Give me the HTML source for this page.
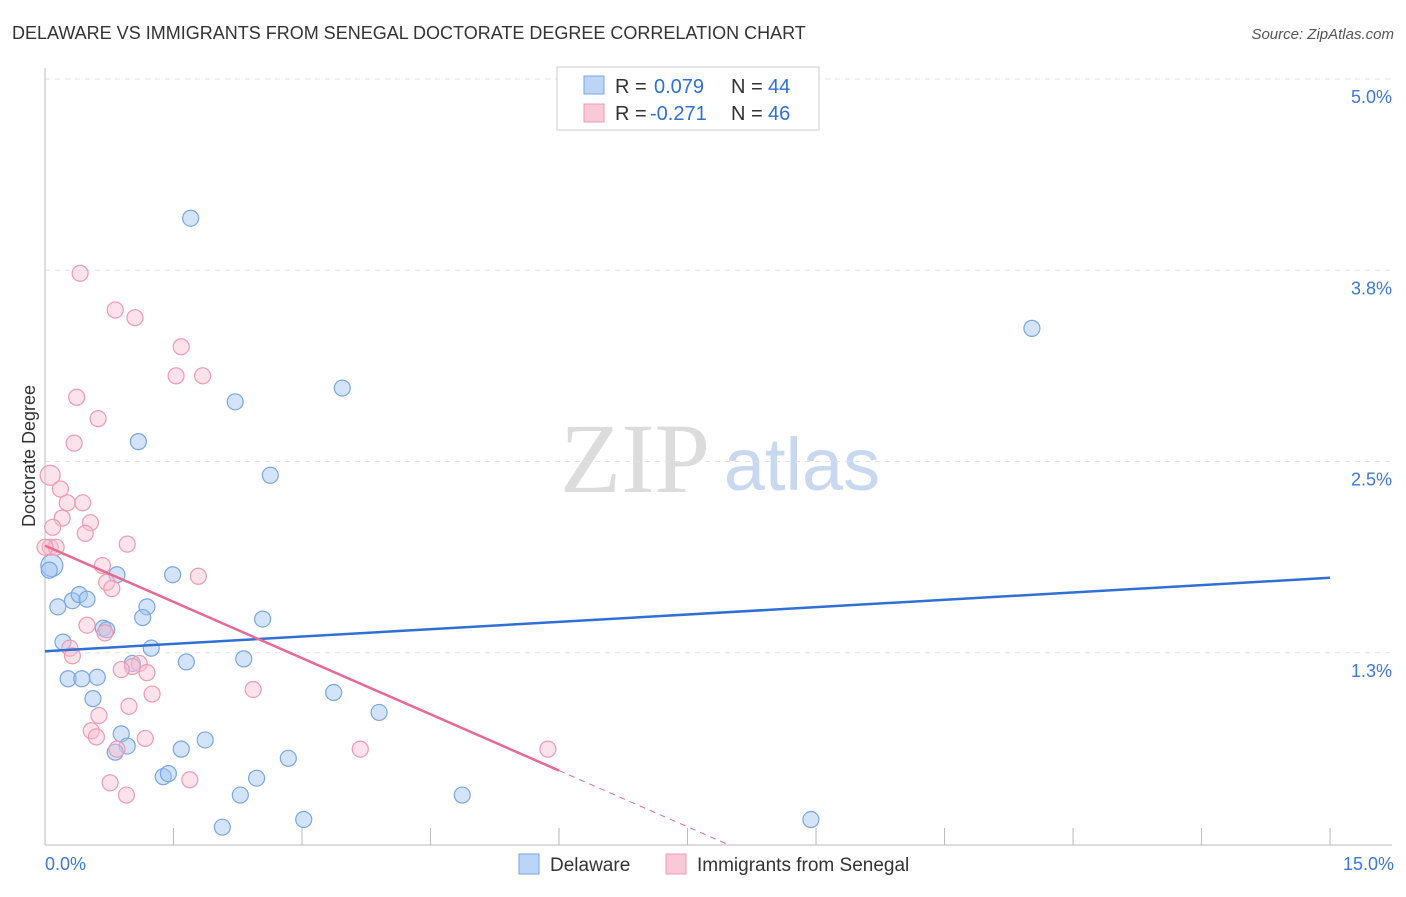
<!DOCTYPE html>
<html><head><meta charset="utf-8"><style>
body{margin:0;background:#fff;font-family:"Liberation Sans",sans-serif;}
svg text{font-family:"Liberation Sans",sans-serif;}
</style></head><body>
<svg id="c" width="1406" height="892">
<text x="12" y="39" font-size="18" fill="#333">DELAWARE VS IMMIGRANTS FROM SENEGAL DOCTORATE DEGREE CORRELATION CHART</text>
<text x="1394" y="39" font-size="15" fill="#555" text-anchor="end" font-style="italic">Source: ZipAtlas.com</text>
<text x="35" y="456" font-size="18" fill="#333" text-anchor="middle" transform="rotate(-90 35 456)">Doctorate Degree</text>
<text x="635" y="492" font-size="100" fill="#dcdcdc" text-anchor="middle" style="font-family:'Liberation Serif',serif">ZIP</text>
<text x="802" y="490" font-size="74" fill="#c8d8ef" text-anchor="middle">atlas</text>
<g id="grid"></g><g id="marks"></g>
<g>
<rect x="557" y="67" width="262" height="63" fill="#fff" stroke="#ccc"/>
<rect x="584" y="76" width="20" height="18" fill="#bcd4f5" stroke="#7aa6e6"/>
<rect x="584" y="104" width="20" height="18" fill="#f9c9d7" stroke="#ee9ab3"/>
<text x="615" y="93" font-size="20" fill="#333">R =</text>
<text x="654" y="93" font-size="20" fill="#2f6fd6">0.079</text>
<text x="731" y="93" font-size="20" fill="#333">N =</text>
<text x="768" y="93" font-size="20" fill="#2f6fd6">44</text>
<text x="615" y="120" font-size="20" fill="#333">R =</text>
<text x="650" y="120" font-size="20" fill="#2f6fd6">-0.271</text>
<text x="731" y="120" font-size="20" fill="#333">N =</text>
<text x="768" y="120" font-size="20" fill="#2f6fd6">46</text>
</g>
<g>
<rect x="519" y="854" width="20" height="20" fill="#bcd4f5" stroke="#7aa6e6"/>
<text x="550" y="871" font-size="19" fill="#333">Delaware</text>
<rect x="666" y="854" width="20" height="20" fill="#f9c9d7" stroke="#ee9ab3"/>
<text x="697" y="871" font-size="19" fill="#333">Immigrants from Senegal</text>
</g>
</svg>
<script>
const xTicks=[0,1.5,3,4.5,6,7.5,9,10.5,12,13.5,15];
const yTicks=[1.25,2.5,3.75,5.0];
const yTickLabels=["1.3%","2.5%","3.8%","5.0%"];
const blueX=[1.70,11.52,3.47,2.22,1.09,2.63,0.08,0.84,1.49,0.15,0.32,0.40,0.49,1.19,1.14,2.54,0.21,0.68,0.72,1.24,1.02,1.65,2.32,0.61,0.27,0.43,0.56,3.37,3.90,0.89,0.96,0.82,1.59,1.87,2.84,1.38,1.44,2.47,2.28,4.87,2.07,3.02,8.94,0.05];
const blueY=[4.09,3.37,2.98,2.89,2.63,2.41,1.82,1.76,1.76,1.55,1.59,1.63,1.60,1.55,1.48,1.47,1.32,1.41,1.40,1.28,1.18,1.19,1.21,1.09,1.08,1.08,0.95,0.99,0.86,0.72,0.64,0.60,0.62,0.68,0.56,0.44,0.46,0.43,0.32,0.32,0.11,0.16,0.16,1.79];
const pinkX=[0.41,0.82,1.05,1.59,1.53,1.84,0.37,0.62,0.34,0.06,0.18,0.44,0.26,0.20,0.53,0.47,0.09,0.96,0.06,0.13,0.67,1.79,0.72,0.78,0.49,0.29,0.32,0.70,1.10,1.02,0.89,1.19,1.25,2.43,0.63,0.98,0.54,0.60,1.17,0.84,3.68,5.87,0.76,1.69,0.95,0.0];
const pinkY=[3.73,3.49,3.44,3.25,3.06,3.06,2.92,2.78,2.62,2.41,2.32,2.23,2.23,2.13,2.10,2.03,2.07,1.96,1.94,1.94,1.82,1.75,1.71,1.67,1.43,1.28,1.23,1.38,1.18,1.16,1.14,1.12,0.98,1.01,0.84,0.90,0.74,0.70,0.69,0.62,0.62,0.62,0.40,0.42,0.32,1.94];
const blueTrend=[1.26,1.74];
const pinkTrend=[1.95,0.48];
const X=v=>45+v*85.67, Y=v=>79+(5-v)*153;
const ns="http://www.w3.org/2000/svg";
const grid=document.getElementById('grid'),marks=document.getElementById('marks');
function mk(p,tag,a){const e=document.createElementNS(ns,tag);for(const k in a)e.setAttribute(k,a[k]);p.appendChild(e);return e;}
yTicks.forEach((t,i)=>{
 const l=mk(grid,'line',{x1:45,x2:1392,y1:Y(t),y2:Y(t),stroke:'#e2e2e2','stroke-dasharray':'5,5'});
 
 
 const tx=mk(grid,'text',{x:1392,y:Y(t)+24,'font-size':18,fill:'#3b78d8','text-anchor':'end'});tx.textContent=yTickLabels[i];
 
 
});
const ax=mk(grid,'line',{x1:45,x2:1392,y1:845,y2:845,stroke:'#bbb'});


const ay=mk(grid,'line',{x1:45,x2:45,y1:68,y2:845,stroke:'#bbb'});


xTicks.forEach(t=>{const l=mk(grid,'line',{x1:X(t),x2:X(t),y1:828,y2:845,stroke:'#bbb'});
 
 });
[[0,'0.0%','start',45],[15,'15.0%','end',1394]].forEach(d=>{const t=mk(grid,'text',{x:d[3],y:870,'font-size':18,fill:'#3b78d8','text-anchor':d[2]});t.textContent=d[1];
 
 });
blueX.forEach((v,i)=>{const c=mk(marks,'circle',{cx:X(v),cy:Y(blueY[i]),r:i==6?11:8,fill:'rgba(160,195,240,0.45)',stroke:'#7aa6e6','stroke-width':1.2});
 
 });
pinkX.forEach((v,i)=>{const c=mk(marks,'circle',{cx:X(v),cy:Y(pinkY[i]),r:i==9?10:8,fill:'rgba(248,190,208,0.45)',stroke:'#ee9ab3','stroke-width':1.2});
 
 });
const bl=mk(marks,'line',{x1:X(0),y1:Y(blueTrend[0]),x2:X(15),y2:Y(blueTrend[1]),stroke:'#2f6fd6','stroke-width':2.5});


const sl=(pinkTrend[1]-pinkTrend[0])/6;
const pl=mk(marks,'line',{x1:X(0),y1:Y(pinkTrend[0]),x2:X(6),y2:Y(pinkTrend[1]),stroke:'#e76a94','stroke-width':2.5});


const pd=mk(marks,'line',{x1:X(6),y1:Y(pinkTrend[1]),x2:X(8),y2:Y(pinkTrend[1]+sl*2),stroke:'#e76a94','stroke-width':1,'stroke-dasharray':'6,5'});


</script>
</body></html>
